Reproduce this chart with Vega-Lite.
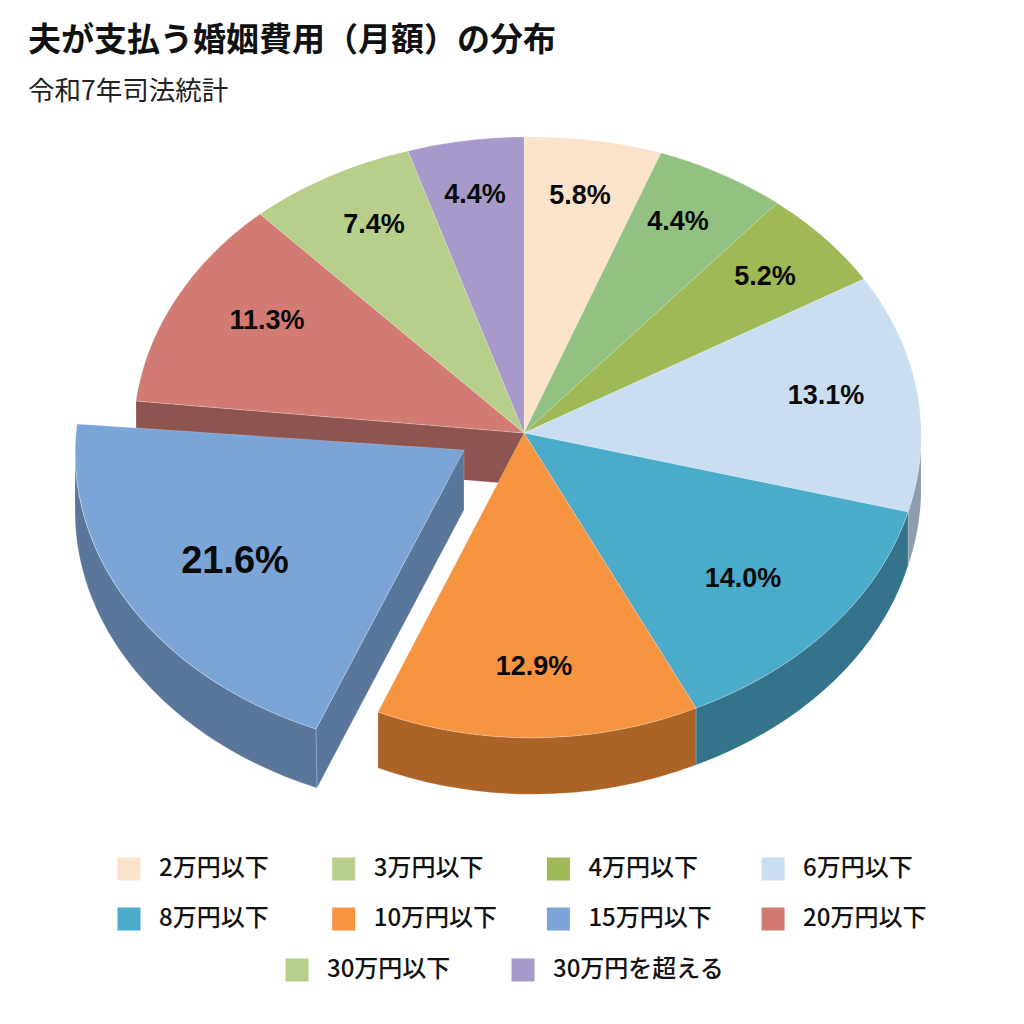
{
  "$schema": "https://vega.github.io/schema/vega-lite/v6.json",
  "description": "夫が支払う婚姻費用(月額)の分布",
  "width": 1024,
  "height": 909,
  "autosize": "none",
  "padding": {"top": 115, "left": 0, "right": 0, "bottom": 0},
  "title": {
    "text": "夫が支払う婚姻費用（月額）の分布",
    "subtitle": "令和7年司法統計",
    "anchor": "start",
    "frame": "group",
    "dx": 28,
    "offset": 10,
    "font": "Noto Sans CJK JP",
    "fontSize": 33,
    "fontWeight": "bold",
    "color": "#111111",
    "subtitleFont": "Noto Sans CJK JP",
    "subtitleFontSize": 26.5,
    "subtitleColor": "#222222",
    "subtitlePadding": 21
  },
  "data": {
    "values": [
      {"rank": 1, "bracket": "2万円以下", "share": 0.058},
      {"rank": 2, "bracket": "3万円以下", "share": 0.044},
      {"rank": 3, "bracket": "4万円以下", "share": 0.052},
      {"rank": 4, "bracket": "6万円以下", "share": 0.131},
      {"rank": 5, "bracket": "8万円以下", "share": 0.14},
      {"rank": 6, "bracket": "10万円以下", "share": 0.129},
      {"rank": 7, "bracket": "15万円以下", "share": 0.216},
      {"rank": 8, "bracket": "20万円以下", "share": 0.113},
      {"rank": 9, "bracket": "30万円以下", "share": 0.074},
      {"rank": 10, "bracket": "30万円を超える", "share": 0.044}
    ]
  },
  "resolve": {"scale": {"color": "independent", "shape": "independent"}},
  "layer": [
    {
      "transform": [{"filter": "datum.rank === 8"}],
      "mark": {"type": "point", "filled": true, "opacity": 1, "size": 4, "xOffset": 12, "yOffset": -136.5, "stroke": "#ffffff", "strokeOpacity": 0.25, "strokeWidth": 0.8, "fill": "#8e544f", "shape": "M-388,-32L0,0L0,52L-388,20Z"},
      "encoding": {}
    },
    {
      "transform": [{"filter": {"field": "rank", "oneOf": [4, 5, 6, 7]}}],
      "mark": {"type": "point", "filled": true, "opacity": 1, "size": 4, "xOffset": 12, "yOffset": -136.5, "stroke": "#ffffff", "strokeOpacity": 0.25, "strokeWidth": 0.8},
      "encoding": {
        "color": {
          "field": "bracket",
          "type": "nominal",
          "legend": null,
          "scale": {
            "domain": ["6万円以下", "8万円以下", "10万円以下", "15万円以下"],
            "range": ["#8c9dae", "#34738a", "#ab6327", "#5a769b"]
          }
        },
        "shape": {
          "field": "rank",
          "type": "nominal",
          "legend": null,
          "scale": {
            "domain": [4, 5, 6, 7],
            "range": [
              "M397,7L397,64A393,300 0 0 1 384,133L384,79A393,300 0 0 0 397,7Z",
              "M384,79L384,133A393,300 0 0 1 172,332L172,275A393,300 0 0 0 384,79Z",
              "M172,275L172,332A393,325 0 0 1 -146,335L-146,279A393,325 0 0 0 172,275Z",
              "M-449,21L-449,79A393,300 0 0 0 -207,355L-208,296A393,300 0 0 1 -449,21ZM-60,17L-60,77L-207,355L-208,296Z"
            ]
          }
        }
      }
    },
    {
      "transform": [{"filter": "datum.rank <= 8"}],
      "mark": {"type": "point", "filled": true, "opacity": 1, "size": 4, "xOffset": 12, "yOffset": -136.5, "stroke": "#ffffff", "strokeOpacity": 0.25, "strokeWidth": 0.8},
      "encoding": {
        "color": {
          "field": "bracket",
          "type": "nominal",
          "scale": {
            "domain": ["2万円以下", "3万円以下", "4万円以下", "6万円以下", "8万円以下", "10万円以下", "15万円以下", "20万円以下"],
            "range": ["#fce3cb", "#b8cf8b", "#9eb955", "#c9dff1", "#4babcb", "#f79440", "#7ba5d7", "#d27b74"]
          },
          "legend": {
            "title": null,
            "orient": "none",
            "direction": "horizontal",
            "legendX": 117,
            "legendY": 742,
            "columns": 4,
            "gridAlign": "all",
            "columnPadding": 48.7,
            "rowPadding": 26,
            "padding": 0,
            "symbolType": "square",
            "symbolSize": 529,
            "symbolStrokeWidth": 0,
            "labelOffset": 18,
            "labelFont": "Noto Sans CJK JP",
            "labelFontSize": 24,
            "labelFontWeight": 500,
            "labelColor": "#111111",
            "labelLimit": 300
          }
        },
        "shape": {
          "field": "rank",
          "type": "nominal",
          "legend": null,
          "scale": {
            "domain": [1, 2, 3, 4, 5, 6, 7, 8],
            "range": [
              "M0,0L0,-296A393,300 0 0 1 137,-280Z",
              "M0,0L137,-280A393,300 0 0 1 253,-230Z",
              "M0,0L253,-230A393,300 0 0 1 340,-154Z",
              "M0,0L340,-154A393,300 0 0 1 384,79Z",
              "M0,0L384,79A393,300 0 0 1 172,275Z",
              "M0,0L172,275A393,325 0 0 1 -146,279Z",
              "M-60,17L-447,-9A393,300 0 0 0 -208,296Z",
              "M0,0L-388,-32A393,300 0 0 1 -264,-219Z"
            ]
          }
        }
      }
    },
    {
      "transform": [{"filter": "datum.rank === 2"}],
      "mark": {"type": "point", "filled": true, "opacity": 1, "size": 4, "xOffset": 12, "yOffset": -136.5, "stroke": "#ffffff", "strokeOpacity": 0.25, "strokeWidth": 0.8, "fill": "#93c182", "shape": "M0,0L137,-280A393,300 0 0 1 253,-230Z"},
      "encoding": {}
    },
    {
      "transform": [{"filter": "datum.rank > 8"}],
      "mark": {"type": "point", "filled": true, "opacity": 1, "size": 4, "xOffset": 12, "yOffset": -136.5, "stroke": "#ffffff", "strokeOpacity": 0.25, "strokeWidth": 0.8},
      "encoding": {
        "color": {
          "field": "bracket",
          "type": "nominal",
          "scale": {
            "domain": ["30万円以下", "30万円を超える"],
            "range": ["#b8cf8b", "#a79aca"]
          },
          "legend": {
            "title": null,
            "orient": "none",
            "direction": "horizontal",
            "legendX": 285,
            "legendY": 843,
            "columns": 2,
            "gridAlign": "none",
            "columnPadding": 60,
            "padding": 0,
            "symbolType": "square",
            "symbolSize": 529,
            "symbolStrokeWidth": 0,
            "labelOffset": 18,
            "labelFont": "Noto Sans CJK JP",
            "labelFontSize": 24,
            "labelFontWeight": 500,
            "labelColor": "#111111",
            "labelLimit": 300
          }
        },
        "shape": {
          "field": "rank",
          "type": "nominal",
          "legend": null,
          "scale": {
            "domain": [9, 10],
            "range": [
              "M0,0L-264,-219A393,300 0 0 1 -116,-282Z",
              "M0,0L-116,-282A393,300 0 0 1 0,-296Z"
            ]
          }
        }
      }
    },
    {
      "mark": {
        "type": "text",
        "font": "Liberation Sans",
        "fontWeight": "bold",
        "color": "#0a0a0a",
        "baseline": "middle",
        "align": "center",
        "xOffset": 12,
        "yOffset": -136.5,
        "fontSize": {"expr": "datum.rank === 7 ? 38 : 27"},
        "dx": {"expr": "[56,154,241,302,219,10,-289,-257,-150,-49][datum.rank - 1]"},
        "dy": {"expr": "[-237,-211,-156,-37,146,234,129,-112,-208,-238][datum.rank - 1]"}
      },
      "encoding": {
        "text": {"field": "share", "type": "quantitative", "format": ".1%"}
      }
    }
  ]
}
